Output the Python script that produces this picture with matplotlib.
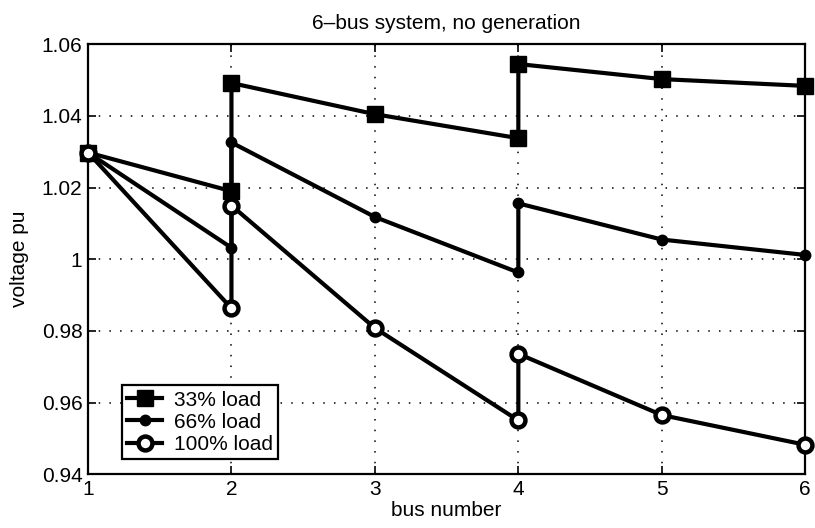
import numpy as np
import matplotlib
matplotlib.use("Agg")
import matplotlib.pyplot as plt

plt.rcParams['font.family'] = ['Liberation Sans', 'DejaVu Sans']

# bus positions (buses 2 and 4 appear twice: before/after the regulator)
bus = [1, 2, 2, 3, 4, 4, 5, 6]

v33 = [1.0298, 1.0190, 1.0492, 1.0405, 1.0338, 1.0545, 1.0503, 1.0484]
v66 = [1.0298, 1.0032, 1.0326, 1.0118, 0.9963, 1.0156, 1.0055, 1.0012]
v100 = [1.0298, 0.9863, 1.0150, 0.9808, 0.9550, 0.9736, 0.9565, 0.9482]

xticks = [1, 2, 3, 4, 5, 6]
yticks = [0.94, 0.96, 0.98, 1.0, 1.02, 1.04, 1.06]
yticklabels = ['0.94', '0.96', '0.98', '1', '1.02', '1.04', '1.06']

fig = plt.figure(figsize=(8.15, 5.28), dpi=100)
ax = fig.add_axes([0.108, 0.102, 0.880, 0.814])

ax.plot(bus, v33, color='black', lw=3, marker='s', ms=11,
        mfc='black', mec='black', label='33% load', clip_on=False, zorder=3)
ax.plot(bus, v66, color='black', lw=3, marker='o', ms=7.5,
        mfc='black', mec='black', label='66% load', clip_on=False, zorder=3)
ax.plot(bus, v100, color='black', lw=3, marker='o', ms=10,
        mfc='white', mec='black', mew=3.2, label='100% load', clip_on=False,
        zorder=3)

ax.set_xlim(1, 6)
ax.set_ylim(0.94, 1.06)
ax.set_xticks(xticks)
ax.set_yticks(yticks)
ax.set_yticklabels(yticklabels)
ax.tick_params(direction='in', top=True, right=True, labelsize=15,
               length=6, width=1.2, pad=4)
ax.grid(True, color='black', linestyle=(0, (1, 6)), linewidth=1.1)
for s in ax.spines.values():
    s.set_linewidth(1.6)

ax.set_title('6\u2013bus system, no generation', fontsize=15, pad=11)
ax.set_xlabel('bus number', fontsize=15, labelpad=2)
ax.set_ylabel('voltage pu', fontsize=15, labelpad=9)

leg = ax.legend(loc='lower left', bbox_to_anchor=(0.047, 0.035),
                borderaxespad=0, fontsize=15, fancybox=False, framealpha=1,
                edgecolor='black', handlelength=1.7, handletextpad=0.55,
                borderpad=0.25, labelspacing=0.15)
leg.get_frame().set_linewidth(1.6)

fig.savefig('out.png', dpi=100)
